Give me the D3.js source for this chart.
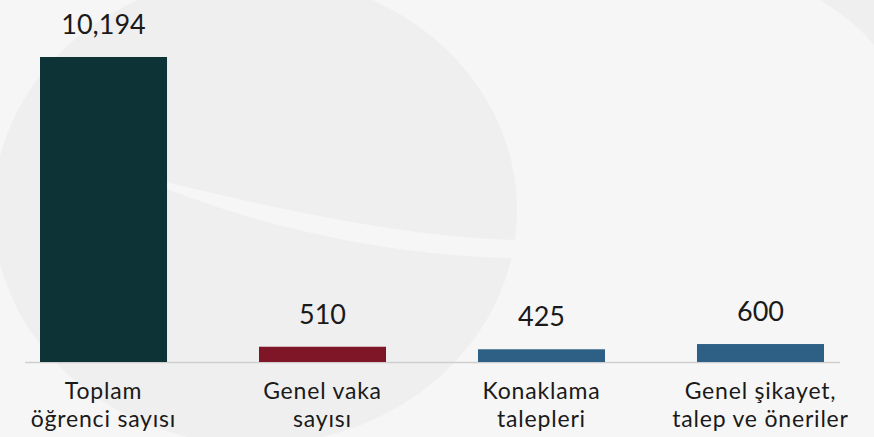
<!DOCTYPE html>
<html>
<head>
<meta charset="utf-8">
<script src="https://cdn.jsdelivr.net/npm/d3@7"></script>
<style>
  html, body { margin: 0; padding: 0; background: #f6f6f6; }
  svg { display: block; }
</style>
</head>
<body>
<svg id="chart" width="874" height="437"></svg>
<script>
const categories = [
  ["Toplam", "öğrenci sayısı"],
  ["Genel vaka", "sayısı"],
  ["Konaklama", "talepleri"],
  ["Genel şikayet,", "talep ve öneriler"]
];
const values = [10194, 510, 425, 600];
const valueLabels = ["10,194", "510", "425", "600"];
const barColors = ["#0e3336", "#7f1628", "#2e5f84", "#2e5f84"];

const W = 874, H = 437;
const svg = d3.select("#chart");

// background
svg.append("rect").attr("width", W).attr("height", H).attr("fill", "#f6f6f6");
const bg = svg.append("g");
bg.append("ellipse").attr("cx", 255).attr("cy", 210).attr("rx", 262).attr("ry", 235)
  .attr("fill", "#efefef");
bg.append("path")
  .attr("d", "M150,178 C260,205 400,238 520,240 L520,258 C400,258 260,228 150,182 Z")
  .attr("fill", "#f6f6f6");
bg.append("path")
  .attr("d", "M820,0 C845,15 862,30 874,45 L874,0 Z")
  .attr("fill", "#efefef");

const x = d3.scaleBand()
  .domain(d3.range(categories.length))
  .range([40, 824])
  .paddingInner(0.42)
  .paddingOuter(0);

const y = d3.scaleLinear()
  .domain([0, d3.max(values)])
  .range([362, 57]);

// baseline
svg.append("line")
  .attr("x1", 25).attr("x2", 840)
  .attr("y1", y(0) + 0.5).attr("y2", y(0) + 0.5)
  .attr("stroke", "#cfcfcf").attr("stroke-width", 1.5);

svg.append("g").selectAll("rect")
  .data(values)
  .join("rect")
  .attr("x", (d, i) => x(i))
  .attr("width", x.bandwidth())
  .attr("y", d => y(d))
  .attr("height", d => y(0) - y(d))
  .attr("fill", (d, i) => barColors[i]);

svg.append("g").selectAll("text")
  .data(values)
  .join("text")
  .attr("x", (d, i) => x(i) + x.bandwidth() / 2)
  .attr("y", d => y(d) - 23)
  .attr("text-anchor", "middle")
  .attr("font-family", "Lato, 'Open Sans', sans-serif")
  .attr("font-size", 27)
  .attr("fill", "#1a1a1a")
  .text((d, i) => valueLabels[i]);

const labG = svg.append("g");
categories.forEach((lines, i) => {
  lines.forEach((line, j) => {
    labG.append("text")
      .attr("x", x(i) + x.bandwidth() / 2)
      .attr("y", 399 + j * 28)
      .attr("text-anchor", "middle")
      .attr("font-family", "Lato, 'Open Sans', sans-serif")
      .attr("font-size", 23)
      .attr("letter-spacing", 0.8)
      .attr("fill", "#1a1a1a")
      .text(line);
  });
});
</script>
</body>
</html>
